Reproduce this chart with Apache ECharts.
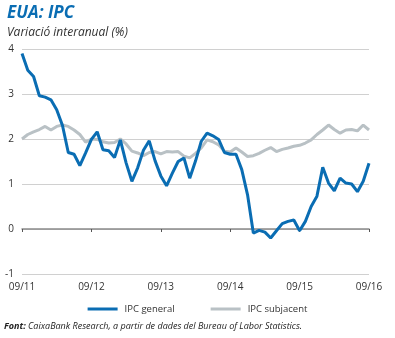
<!DOCTYPE html>
<html>
<head>
<meta charset="utf-8">
<script src="https://cdn.jsdelivr.net/npm/echarts@6/dist/echarts.min.js"></script>
<style>
  html, body { margin: 0; padding: 0; background: #fff; }
  #main { width: 395px; height: 338px; }
</style>
</head>
<body>
<div id="main"></div>
<script>
// monthly, 09/2011 .. 09/2016
var startYear = 2011, startMonth = 9, nMonths = 61;
var months = [];
for (var i = 0; i < nMonths; i++) {
    var m = (startMonth - 1 + i) % 12 + 1;
    var y = startYear + Math.floor((startMonth - 1 + i) / 12);
    months.push((m < 10 ? '0' + m : '' + m) + '/' + String(y).slice(2));
}

var ipcGeneral = [
    3.9, 3.53, 3.39, 2.96,
    2.93, 2.87, 2.65, 2.3, 1.7, 1.66, 1.41, 1.69, 1.99, 2.16, 1.76, 1.74,
    1.59, 1.98, 1.47, 1.06, 1.36, 1.75, 1.96, 1.52, 1.18, 0.96, 1.24, 1.5,
    1.58, 1.13, 1.51, 1.95, 2.13, 2.07, 1.99, 1.7, 1.66, 1.66, 1.32, 0.76,
    -0.09, -0.03, -0.07, -0.2, -0.04, 0.12, 0.17, 0.2, -0.04, 0.17, 0.5, 0.73,
    1.37, 1.02, 0.85, 1.13, 1.02, 1.0, 0.83, 1.06, 1.46
];
var ipcSubjacent = [
    2.0, 2.1, 2.16, 2.21,
    2.28, 2.2, 2.28, 2.31, 2.28, 2.2, 2.1, 1.93, 2.0, 1.99, 1.94, 1.91,
    1.92, 2.0, 1.89, 1.73, 1.69, 1.63, 1.7, 1.72, 1.67, 1.72, 1.71, 1.72,
    1.62, 1.58, 1.68, 1.8, 1.98, 1.94, 1.87, 1.73, 1.71, 1.8, 1.71, 1.61,
    1.63, 1.68, 1.75, 1.81, 1.72, 1.77, 1.8, 1.84, 1.86, 1.91, 1.98, 2.1,
    2.2, 2.31, 2.21, 2.13, 2.2, 2.21, 2.18, 2.31, 2.2
];
var seriesNames = ['IPC general', 'IPC subjacent'];

var blue = '#0a6db3';
var grey = '#b9c1c5';
var font = 'Open Sans';

var myChart = echarts.init(document.getElementById('main'));

var yearTick = function (idx) { return idx % 12 === 0; };

var option = {
    animation: false,
    textStyle: { fontFamily: font },
    title: {
        text: 'EUA: IPC',
        subtext: 'Variació interanual (%)',
        left: 2,
        top: 0,
        itemGap: 5,
        textStyle: { color: blue, fontSize: 17, fontWeight: 'bold', fontStyle: 'italic', fontFamily: font },
        subtextStyle: { color: '#333', fontSize: 12, fontStyle: 'italic', fontFamily: font }
    },
    legend: {
        data: seriesNames,
        top: 299,
        left: 'center',
        icon: 'rect',
        itemWidth: 30,
        itemHeight: 3,
        itemGap: 36,
        textStyle: { fontSize: 9.5, color: '#333', fontFamily: font, padding: [0, 0, 0, 2] }
    },
    grid: { left: 22, right: 26, top: 49, bottom: 64 },
    xAxis: [{
        type: 'category',
        data: months,
        boundaryGap: false,
        axisLine: { onZero: true, lineStyle: { color: '#8a8a8a', width: 1.5 } },
        axisTick: { show: true, interval: yearTick, length: 3, lineStyle: { color: '#555' } },
        axisLabel: { show: false }
    }, {
        type: 'category',
        data: months,
        boundaryGap: false,
        position: 'bottom',
        axisLine: { show: false },
        axisTick: { show: false },
        axisLabel: { interval: yearTick, color: '#333', fontSize: 10, margin: 8 }
    }],
    yAxis: {
        type: 'value',
        min: -1,
        max: 4,
        interval: 1,
        axisLine: { show: false },
        axisTick: { show: false },
        axisLabel: { color: '#333', fontSize: 10, margin: 8 },
        splitLine: { lineStyle: { color: '#d0d0d0', width: 1 } }
    },
    series: [{
        name: seriesNames[1],
        type: 'line',
        data: ipcSubjacent,
        showSymbol: false,
        symbol: 'none',
        lineStyle: { color: grey, width: 3 },
        itemStyle: { color: grey }
    }, {
        name: seriesNames[0],
        type: 'line',
        data: ipcGeneral,
        showSymbol: false,
        symbol: 'none',
        lineStyle: { color: blue, width: 3 },
        itemStyle: { color: blue }
    }],
    graphic: [{
        type: 'text',
        left: 4,
        top: 322,
        style: {
            text: '{b|Font:} CaixaBank Research, a partir de dades del Bureau of Labor Statistics.',
            rich: {
                b: { fontWeight: 'bold', fontStyle: 'italic', fontSize: 9, fontFamily: font, fill: '#222' }
            },
            font: 'italic 9px "Open Sans"',
            fill: '#222'
        }
    }]
};

myChart.setOption(option);
</script>
</body>
</html>
